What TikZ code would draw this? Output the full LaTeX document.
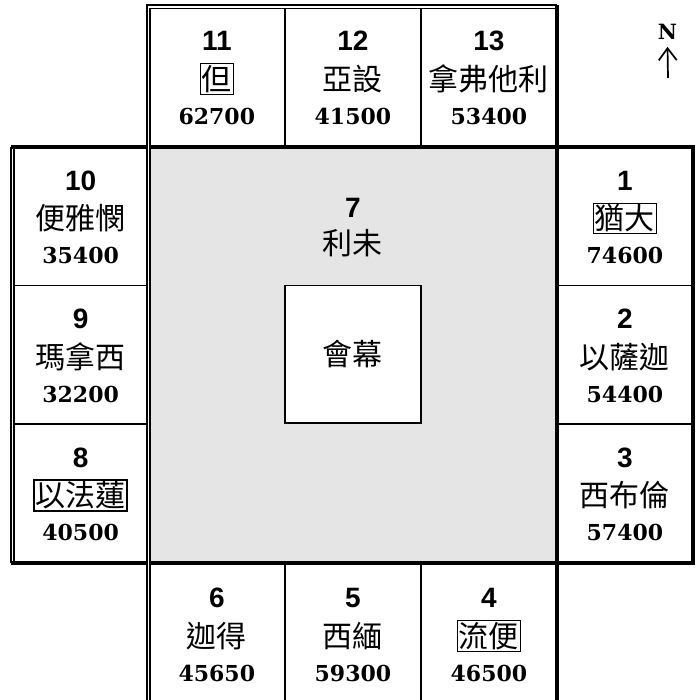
\documentclass[tikz,border=0pt]{standalone}
\usepackage{fontspec}
\newfontfamily\numfont{Liberation Sans}
\newfontfamily\cjkfont{Noto Sans CJK TC}
\newfontfamily\valfont{DejaVu Serif}
\usetikzlibrary{arrows.meta}

\begin{document}
\begin{tikzpicture}[x=1pt, y=-1pt]

        % One pixel of the plan is one point, y runs downwards
        \tikzset{
            numtxt/.style={font=\numfont\bfseries\fontsize{28}{30}\selectfont, inner sep=0pt},
            nametxt/.style={font=\cjkfont\fontsize{30}{32}\selectfont, inner sep=1.5pt},
            valtxt/.style={font=\valfont\bfseries\fontsize{22}{24}\selectfont, inner sep=0pt},
            boxed/.style={draw, line width=1.3pt},
            innerline/.style={line width=1.6pt},
            edgeline/.style={line width=4pt},
            doubleline/.style={double, line width=1.8pt, double distance=1.4pt},
        }

        \useasboundingbox (0,0) rectangle (696,700);

        % Column and row borders of the camp
        \pgfmathsetmacro{\xa}{12.5}
        \pgfmathsetmacro{\xb}{148.7}
        \pgfmathsetmacro{\xc}{285}
        \pgfmathsetmacro{\xd}{420.7}
        \pgfmathsetmacro{\xe}{557}
        \pgfmathsetmacro{\xf}{692.8}
        \pgfmathsetmacro{\ya}{7}
        \pgfmathsetmacro{\yb}{147.5}
        \pgfmathsetmacro{\yc}{285.5}
        \pgfmathsetmacro{\yd}{424}
        \pgfmathsetmacro{\ye}{563}
        \pgfmathsetmacro{\yf}{704}

        % Middle of each tribe's cell
        \coordinate (C11) at (216.8, 77);
        \coordinate (C12) at (352.9, 77);
        \coordinate (C13) at (488.9, 77);
        \coordinate (C10) at (80.6, 216.5);
        \coordinate (C9) at (80.6, 355);
        \coordinate (C8) at (80.6, 493.5);
        \coordinate (C1) at (624.9, 216.5);
        \coordinate (C2) at (624.9, 355);
        \coordinate (C3) at (624.9, 493.5);
        \coordinate (C6) at (216.8, 634);
        \coordinate (C5) at (352.9, 634);
        \coordinate (C4) at (488.9, 634);

        % Levites' court and the tent
        \fill [black!10] (\xb, \yb) rectangle (\xe, \ye);
        \draw [innerline, fill=white] (\xc, \yc) rectangle (\xd, 422.7);

        \begin{scope}[innerline]
            \draw (\xc, \ya) -- (\xc, \yb);
            \draw (\xd, \ya) -- (\xd, \yb);
            \draw (\xc, \ye) -- (\xc, \yf);
            \draw (\xd, \ye) -- (\xd, \yf);
            \draw (\xa, \yc) -- (\xb, \yc);
            \draw (\xa, \yd) -- (\xb, \yd);
            \draw (\xe, \yc) -- (\xf, \yc);
            \draw (\xe, \yd) -- (\xf, \yd);
        \end{scope}

        % Outer borders: double on the west and north, heavy on the east and south
        \draw [doubleline] (\xa, \yb) -- (\xa, \ye);
        \begin{scope}[edgeline]
            \draw (10.5, \yb) -- (694.8, \yb);
            \draw (10.5, \ye) -- (694.8, \ye);
            \draw (\xf, \yb) -- (\xf, \ye);
        \end{scope}
        \draw [doubleline] (\xb, \yf) -- (\xb, \ya) -- (\xe, \ya);
        \draw [edgeline] (\xe, 5) -- (\xe, \yf);

        % North
        \node (nlabel) at (667.5, 32) [font=\valfont\bfseries\fontsize{21}{23}\selectfont, inner sep=0pt] {N};
        \coordinate (nfoot) at (668, 78);
        \draw [line width=1.7pt, -{Straight Barb[length=12pt, width=18pt]}]
            (nfoot) -- ([yshift=-7pt]nlabel.south);

        % Tribes
        \node (num11) at (C11) [numtxt, yshift=36pt] {11};
        \node (name11) at (C11) [nametxt, boxed, yshift=-2pt] {但};
        \node (val11) at (C11) [valtxt, yshift=-39pt] {62700};

        \node (num12) at (C12) [numtxt, yshift=36pt] {12};
        \node (name12) at (C12) [nametxt, yshift=-2pt] {亞設};
        \node (val12) at (C12) [valtxt, yshift=-39pt] {41500};

        \node (num13) at (C13) [numtxt, yshift=36pt] {13};
        \node (name13) at (C13) [nametxt, yshift=-2pt] {拿弗他利};
        \node (val13) at (C13) [valtxt, yshift=-39pt] {53400};

        \node (num10) at (C10) [numtxt, yshift=36pt] {10};
        \node (name10) at (C10) [nametxt, yshift=-2pt] {便雅憫};
        \node (val10) at (C10) [valtxt, yshift=-39pt] {35400};

        \node (num9) at (C9) [numtxt, yshift=36pt] {9};
        \node (name9) at (C9) [nametxt, yshift=-2pt] {瑪拿西};
        \node (val9) at (C9) [valtxt, yshift=-39pt] {32200};

        \node (num8) at (C8) [numtxt, yshift=36pt] {8};
        \node (name8) at (C8) [nametxt, boxed, yshift=-2pt] {以法蓮};
        \node (val8) at (C8) [valtxt, yshift=-39pt] {40500};

        \node (num1) at (C1) [numtxt, yshift=36pt] {1};
        \node (name1) at (C1) [nametxt, boxed, yshift=-2pt] {猶大};
        \node (val1) at (C1) [valtxt, yshift=-39pt] {74600};

        \node (num2) at (C2) [numtxt, yshift=36pt] {2};
        \node (name2) at (C2) [nametxt, yshift=-2pt] {以薩迦};
        \node (val2) at (C2) [valtxt, yshift=-39pt] {54400};

        \node (num3) at (C3) [numtxt, yshift=36pt] {3};
        \node (name3) at (C3) [nametxt, yshift=-2pt] {西布倫};
        \node (val3) at (C3) [valtxt, yshift=-39pt] {57400};

        \node (num6) at (C6) [numtxt, yshift=36pt] {6};
        \node (name6) at (C6) [nametxt, yshift=-2pt] {迦得};
        \node (val6) at (C6) [valtxt, yshift=-39pt] {45650};

        \node (num5) at (C5) [numtxt, yshift=36pt] {5};
        \node (name5) at (C5) [nametxt, yshift=-2pt] {西緬};
        \node (val5) at (C5) [valtxt, yshift=-39pt] {59300};

        \node (num4) at (C4) [numtxt, yshift=36pt] {4};
        \node (name4) at (C4) [nametxt, boxed, yshift=-2pt] {流便};
        \node (val4) at (C4) [valtxt, yshift=-39pt] {46500};

        % Levi and the tent of meeting
        \node (num7) at (352.9, 208) [numtxt] {7};
        \node (name7) at (352.9, 243) [nametxt] {利未};
        \node (tent) at (352.9, 354) [nametxt] {會幕};

\end{tikzpicture}
\end{document}
